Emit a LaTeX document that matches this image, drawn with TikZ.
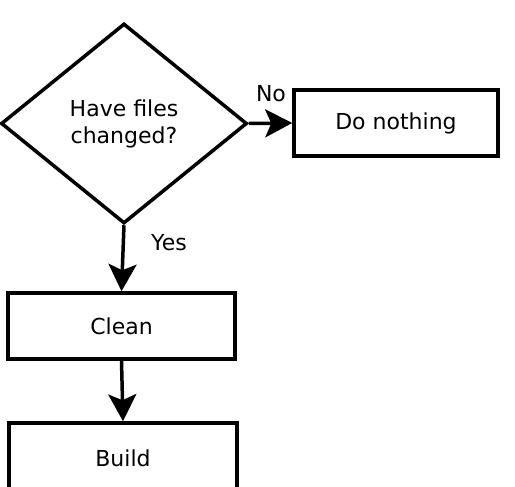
\documentclass[tikz,border=0pt]{standalone}
\usepackage{fontspec}
\setmainfont{DejaVu Sans}
\usetikzlibrary{shapes.geometric,arrows.meta}
\begin{document}
\begin{tikzpicture}[x=1pt,y=-1pt,
  every node/.style={font=\fontsize{22}{27}\selectfont},
  box/.style={draw,line width=3.5pt,rectangle,inner sep=0pt},
  decision/.style={draw,line width=3.5pt,diamond,inner sep=0pt},
  flow/.style={line width=3.5pt,-{Stealth[length=27pt,width=28pt,inset=6pt]}},
  lbl/.style={inner sep=0pt}]
\useasboundingbox (0,0) rectangle (515,487);
\node[decision,minimum width=246pt,minimum height=200pt,align=center] (d) at (124,123.5) {Have files\\changed?};
\node[box,minimum width=204pt,minimum height=66pt] (dn) at (396,123) {Do nothing};
\node[box,minimum width=227pt,minimum height=66pt] (clean) at (121.5,326) {Clean};
\node[box,minimum width=228pt,minimum height=70pt] (build) at (123,458) {Build};
\draw[flow] (d.east) -- (dn.west);
\draw[flow] (d.south) -- (clean.north);
\draw[flow] (clean.south) -- (build.north);
\node[lbl] (no) at (271,94) {No};
\node[lbl] (yes) at (169,243) {Yes};
\end{tikzpicture}
\end{document}
